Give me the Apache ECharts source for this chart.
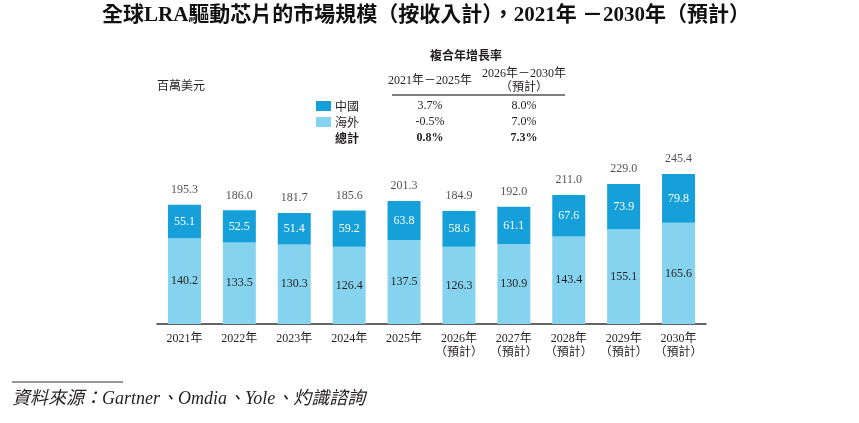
<!DOCTYPE html>
<html>
<head>
<meta charset="utf-8">
<script src="https://cdn.jsdelivr.net/npm/echarts@6/dist/echarts.min.js"></script>
<style>
html,body{margin:0;padding:0;background:#fff;}
#c{width:859px;height:423px;}
</style>
</head>
<body>
<div id="c"></div>
<script>
var categories = ['2021年','2022年','2023年','2024年','2025年','2026年\n（預計）','2027年\n（預計）','2028年\n（預計）','2029年\n（預計）','2030年\n（預計）'];
var china = [55.1,52.5,51.4,59.2,63.8,58.6,61.1,67.6,73.9,79.8];
var overseas = [140.2,133.5,130.3,126.4,137.5,126.3,130.9,143.4,155.1,165.6];
var totals = [195.3,186.0,181.7,185.6,201.3,184.9,192.0,211.0,229.0,245.4];
var seriesNames = ['中國','海外','總計'];
var cagr1 = ['3.7%','-0.5%','0.8%'];
var cagr2 = ['8.0%','7.0%','7.3%'];
var cagrHeaders = ['2021年－2025年','2026年－2030年\n（預計）'];

var SERIF = '"Liberation Serif","Times New Roman","Noto Sans CJK TC",serif';
var CJK = '"Noto Sans CJK TC","Liberation Serif",serif';
var C_CHINA = '#16a0d9';
var C_OVER = '#85d3ef';
var TXT = '#231f20';

var graphics = [];
graphics.push({type:'text', x:426, y:16, style:{text:'全球LRA驅動芯片的市場規模（按收入計），2021年 －2030年（預計）', font:'bold 21px '+SERIF, fill:'#111', align:'center', verticalAlign:'middle'}});
graphics.push({type:'text', x:157, y:85, style:{text:'百萬美元', font:'12px '+CJK, fill:TXT, verticalAlign:'middle'}});
graphics.push({type:'text', x:466, y:55, style:{text:'複合年增長率', font:'bold 12px '+CJK, fill:TXT, align:'center', verticalAlign:'middle'}});
graphics.push({type:'text', x:430, y:81, style:{text:cagrHeaders[0], font:'12px '+SERIF, fill:TXT, align:'center', verticalAlign:'middle'}});
graphics.push({type:'text', x:524, y:81, style:{text:cagrHeaders[1], font:'12px '+SERIF, fill:TXT, align:'center', verticalAlign:'middle', lineHeight:14}});
graphics.push({type:'line', shape:{x1:392,y1:95,x2:565,y2:95}, style:{stroke:'#555', lineWidth:1.5}});
var rowY = [106, 122, 138];
var rowColors = [C_CHINA, C_OVER, null];
for (var i=0;i<3;i++){
  var bold = i===2 ? 'bold ' : '';
  if (rowColors[i]) {
    graphics.push({type:'rect', shape:{x:316,y:rowY[i]-5,width:15,height:10}, style:{fill:rowColors[i]}});
  }
  graphics.push({type:'text', x:335, y:rowY[i], style:{text:seriesNames[i], font:bold+'12px '+CJK, fill:TXT, verticalAlign:'middle'}});
  graphics.push({type:'text', x:430, y:rowY[i], style:{text:cagr1[i], font:bold+'12px '+SERIF, fill:TXT, align:'center', verticalAlign:'middle'}});
  graphics.push({type:'text', x:524, y:rowY[i], style:{text:cagr2[i], font:bold+'12px '+SERIF, fill:TXT, align:'center', verticalAlign:'middle'}});
}
graphics.push({type:'line', shape:{x1:12,y1:382,x2:123,y2:382}, style:{stroke:'#333', lineWidth:1}});
graphics.push({type:'text', x:12, y:399, style:{text:'資料來源：Gartner、Omdia、Yole、灼識諮詢', font:'italic 18px '+SERIF, fill:TXT, verticalAlign:'middle'}});

var chart = echarts.init(document.getElementById('c'));
chart.setOption({
  animation:false,
  backgroundColor:'#fff',
  grid:{left:157, right:153, top:140.7, bottom:99},
  xAxis:{type:'category', data:categories,
    axisTick:{show:false},
    axisLine:{lineStyle:{color:'#333', width:1.5}},
    axisLabel:{color:TXT, fontFamily:SERIF, fontSize:12, margin:8, lineHeight:14, interval:0}},
  yAxis:{type:'value', min:0, max:300, show:false, splitLine:{show:false}},
  series:[
    {name:'海外', type:'bar', stack:'a', data:overseas, barWidth:33, itemStyle:{color:C_OVER},
      label:{show:true, position:'inside', color:TXT, fontFamily:SERIF, fontSize:12, formatter:function(p){return p.value.toFixed(1);}}},
    {name:'中國', type:'bar', stack:'a', data:china, barWidth:33, itemStyle:{color:C_CHINA},
      label:{show:true, position:'inside', color:'#fff', fontFamily:SERIF, fontSize:12, formatter:function(p){return p.value.toFixed(1);}}},
    {name:'總計', type:'scatter', data:totals, symbolSize:0, silent:true,
      label:{show:true, position:'top', distance:9, color:TXT, fontFamily:SERIF, fontSize:12, formatter:function(p){return p.value.toFixed(1);}}}
  ],
  graphic:graphics
});
</script>
</body>
</html>
